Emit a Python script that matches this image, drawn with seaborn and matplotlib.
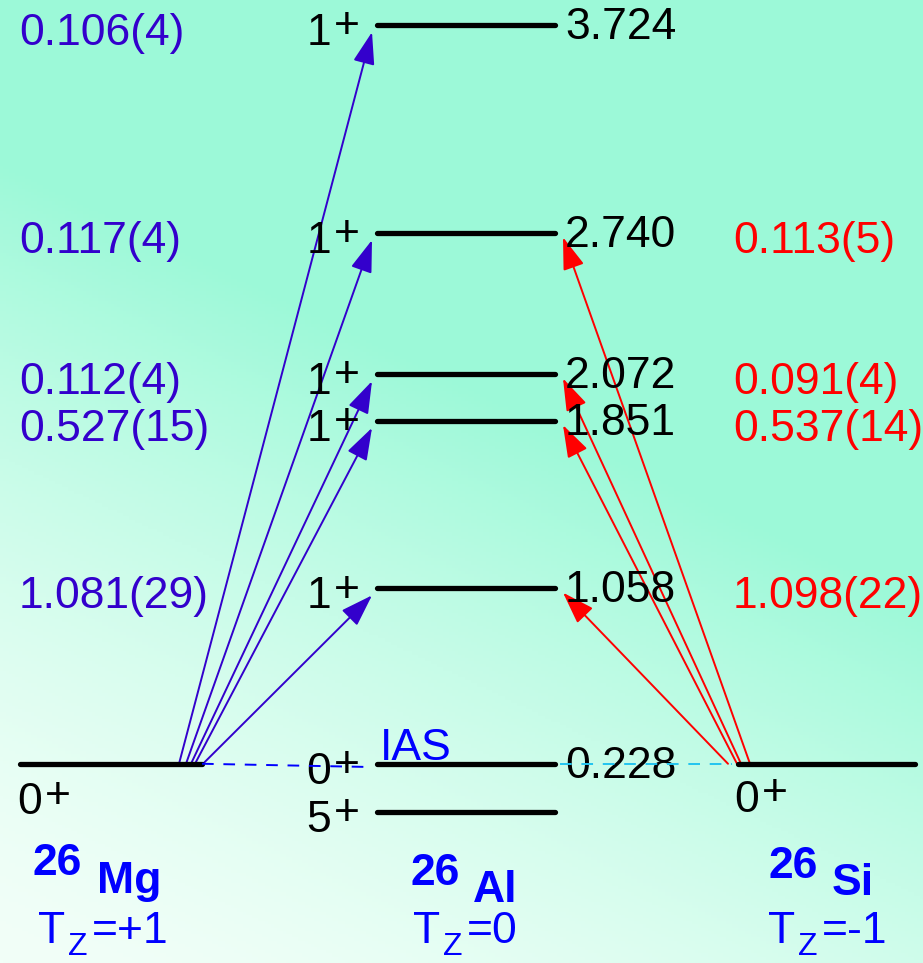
import numpy as np
import pandas as pd
import matplotlib.pyplot as plt
import seaborn as sns

sns.set_theme(style="white")
plt.rcParams["font.family"] = ["Liberation Sans", "DejaVu Sans"]

# ------------------------------
# Level scheme data (energies in MeV)
# ------------------------------
al_energy = [0.0, 0.228, 1.058, 1.851, 2.072, 2.740, 3.724]
al_spin = ["5", "0", "1", "1", "1", "1", "1"]
al_elabel = ["", "0.228", "1.058", "1.851", "2.072", "2.740", "3.724"]
ias_energy = 0.228

# GT transitions 26Mg -> 26Al (blue) and 26Si -> 26Al (red)
mg_targets = [1.058, 1.851, 2.072, 2.740, 3.724]
mg_bgt = ["1.081(29)", "0.527(15)", "0.112(4)", "0.117(4)", "0.106(4)"]
si_targets = [1.058, 1.851, 2.072, 2.740]
si_bgt = ["1.098(22)", "0.537(14)", "0.091(4)", "0.113(5)"]

nuclei = ["Mg", "Al", "Si"]
tz_labels = ["=+1", "=0", "=-1"]

# ------------------------------
# Layout (x in pixel units of the 923x963 canvas)
# ------------------------------
W, H = 923, 963
mg_x = (20, 202)
al_x = (377, 555)
si_x = (738, 915)
mg_start = [203, 195, 191, 186, 179]
si_start = [728, 737, 741, 750]
E_TOP, E_BOT = 3.843, -0.715

blue = "#3300CC"
pure_blue = "#0000FF"
red = "#FF0000"
fs = 32

fig = plt.figure(figsize=(W / 100, H / 100), dpi=100)
ax = fig.add_axes([0, 0, 1, 1])

# background gradient (white lower-left -> aquamarine upper-right)
xx, yy = np.meshgrid(np.linspace(0, 1, 300), np.linspace(0, 1, 300))
t = np.clip(0.55 * xx + 1.2 * (1 - yy), 0, 1) ** 1.5
c0 = np.array([242, 255, 248]) / 255
c1 = np.array([156, 249, 216]) / 255
grad = c0 * (1 - t[..., None]) + c1 * t[..., None]
ax.imshow(grad, extent=[0, W, E_BOT, E_TOP], aspect="auto", zorder=0, origin="upper")


def frac(xp, yp):
    return xp / W, 1 - yp / H


def spin(x, y, digit, **kw):
    # digit with a full-size raised "+" like the original slide
    ax.text(x, y, digit, fontsize=fs, ha="right", va="baseline", color="black", zorder=4, **kw)
    ax.annotate("+", xy=(x, y), xytext=(2, 5), textcoords="offset points", fontsize=fs,
                ha="left", va="baseline", color="black", zorder=4, **kw)


# levels
rows = []
for i, e in enumerate(al_energy):
    rows += [(al_x[0], e, f"al{i}"), (al_x[1], e, f"al{i}")]
rows += [(mg_x[0], ias_energy, "mg"), (mg_x[1], ias_energy, "mg")]
rows += [(si_x[0], ias_energy, "si"), (si_x[1], ias_energy, "si")]
levels = pd.DataFrame(rows, columns=["x", "E", "lvl"])
sns.lineplot(data=levels, x="x", y="E", units="lvl", estimator=None, sort=False,
             color="black", lw=3.8, solid_capstyle="round", legend=False, ax=ax, zorder=3)

# IAS dashed connections
ax.plot([mg_x[1], al_x[0] - 10], [ias_energy, ias_energy - 0.015], color=pure_blue,
        lw=1.4, dashes=(6, 5), zorder=5)
ax.plot([al_x[1] + 5, si_x[0] - 6], [ias_energy, ias_energy], color="#22C4F0",
        lw=1.4, dashes=(6, 5), zorder=5)
ax.text(380, ias_energy + 0.02, "IAS", color=pure_blue, fontsize=fs, ha="left", va="baseline", zorder=4)

# spin and energy labels for 26Al
for e, s, lab in zip(al_energy, al_spin, al_elabel):
    spin(331, e - 0.095, s)
    if lab:
        ax.text(565, e - 0.066, lab, fontsize=fs, ha="left", va="baseline", color="black", zorder=4)

# ground-state spins of 26Mg and 26Si
spin(42, ias_energy - 0.24, "0")
spin(759, ias_energy - 0.23, "0")

# arrows and B(GT) labels
head = dict(arrowstyle="-|>,head_length=1.25,head_width=0.42", mutation_scale=16, lw=1.4,
            shrinkA=0, shrinkB=0)
for e, x0, lab in zip(mg_targets, mg_start, mg_bgt):
    ax.annotate("", xy=(372, e - 0.033), xytext=(x0, ias_energy),
                arrowprops=dict(head, color=blue), zorder=2)
    ax.text(19, e - 0.095, lab, fontsize=fs, color=blue, ha="left", va="baseline")
for e, x0, lab in zip(si_targets, si_start, si_bgt):
    ax.annotate("", xy=(563, e - 0.02), xytext=(x0, ias_energy),
                arrowprops=dict(head, color=red), zorder=2)
    ax.text(733, e - 0.095, lab, fontsize=fs, color=red, ha="left", va="baseline")

# nucleus names and Tz
mass_pos = [(33, 875), (410, 885), (768, 878)]
name_pos = [(97, 893), (473, 902), (832, 895)]
tz_x = [38, 413, 768]
for nm, tz, mp, npos, tx in zip(nuclei, tz_labels, mass_pos, name_pos, tz_x):
    ax.text(*frac(*mp), "26", transform=ax.transAxes, fontsize=fs, fontweight="bold",
            color=pure_blue, ha="left", va="baseline")
    ax.text(*frac(*npos), nm, transform=ax.transAxes, fontsize=fs, fontweight="bold",
            color=pure_blue, ha="left", va="baseline")
    ax.text(*frac(tx, 943), "T", transform=ax.transAxes, fontsize=fs,
            color=pure_blue, ha="left", va="baseline")
    ax.text(*frac(tx + 30, 955), "Z", transform=ax.transAxes, fontsize=23,
            color=pure_blue, ha="left", va="baseline")
    ax.text(*frac(tx + 54, 943), tz, transform=ax.transAxes, fontsize=fs,
            color=pure_blue, ha="left", va="baseline")

ax.set_xlim(0, W)
ax.set_ylim(E_BOT, E_TOP)
ax.axis("off")

fig.savefig("out.png", dpi=100)
plt.close(fig)
